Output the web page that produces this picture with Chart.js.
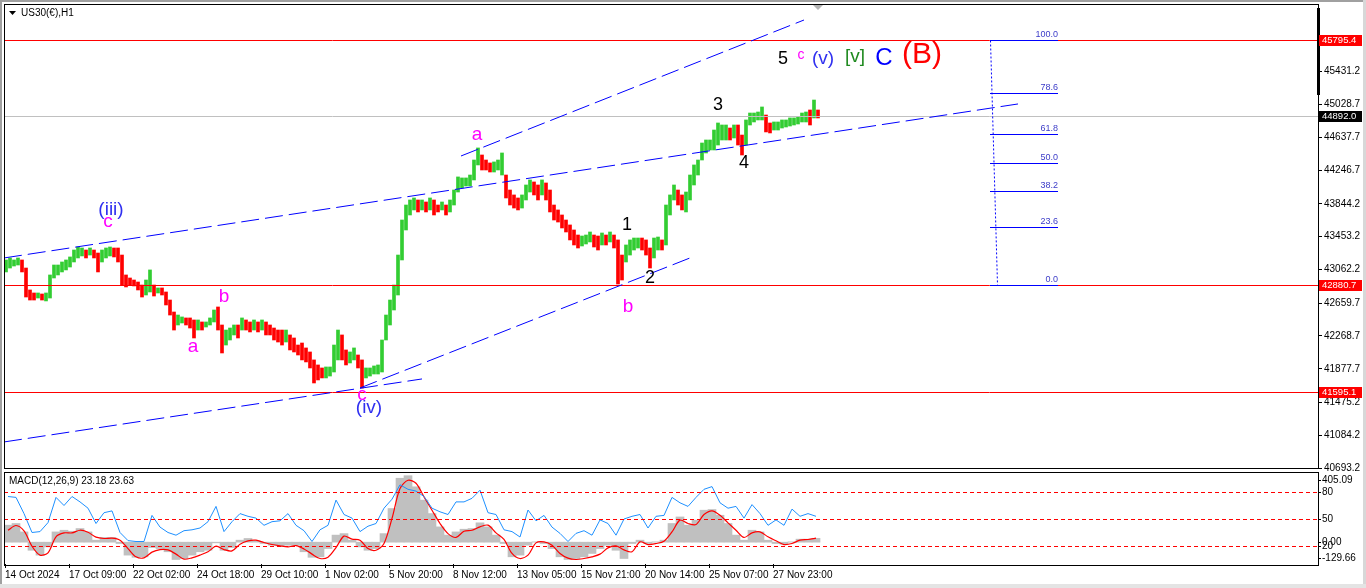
<!DOCTYPE html>
<html>
<head>
<meta charset="utf-8">
<script src="https://cdn.jsdelivr.net/npm/chart.js@4.4.1/dist/chart.umd.min.js"></script>
<style>
  html, body { margin: 0; padding: 0; background: #fff; }
  #wrap { position: relative; width: 1366px; height: 588px; overflow: hidden; background: #fff; }
  canvas { position: absolute; left: 0; }
  #price { top: 0; }
  #macd { top: 472px; }
  .edge { position: absolute; background: #a0a0a0; }
</style>
</head>
<body>
<div id="wrap">
  <canvas id="price" width="1366" height="476"></canvas>
  <canvas id="macd" width="1366" height="116"></canvas>
  <div class="edge" style="left:0;top:0;width:2px;height:588px"></div>
  <div class="edge" style="left:0;top:0;width:1366px;height:2px"></div>
  <div class="edge" style="left:1363px;top:0;width:3px;height:588px;background:#d8d8d8"></div>
  <div class="edge" style="left:0;top:584px;width:1366px;height:4px;background:#e4e4e4"></div>
</div>
<script>
// ---- data (hours are counted from the first bar, 1 hour = 1 bar) ----
const timeLabels = ['14 Oct 2024', '17 Oct 09:00', '22 Oct 02:00', '24 Oct 18:00', '29 Oct 10:00', '1 Nov 02:00',
  '5 Nov 20:00', '8 Nov 12:00', '13 Nov 05:00', '15 Nov 21:00', '20 Nov 14:00', '25 Nov 07:00', '27 Nov 23:00'];
const timeTickHours = [1, 65, 129, 193, 257, 321, 385, 449, 513, 577, 641, 705, 769];
const priceTicks = [40693.2, 41084.2, 41475.2, 41877.7, 42268.7, 42659.7, 43062.2, 43453.2, 43844.2,
  44246.7, 44637.7, 45028.7, 45431.2];

// 4-hour blocks of US30 H1: high / low of each block
const barHigh = [43176,43200,43176,43200,43176,43080,42818,42782,42782,42770,
  42782,42997,43116,43116,43152,43176,43212,43295,43331,43319,
  43295,43319,43295,43259,43295,43319,43331,43319,43319,43235,
  42997,42961,42937,42913,42877,42937,43057,42877,42842,42842,
  42794,42698,42555,42519,42496,42484,42484,42460,42460,42436,
  42436,42484,42579,42615,42400,42340,42364,42400,42400,42484,
  42460,42436,42460,42436,42460,42436,42400,42364,42340,42340,
  42340,42281,42245,42161,42185,42126,42078,41983,41923,41887,
  41899,41899,42161,42340,42281,42102,42078,42126,42042,41983,
  41887,41887,41911,41923,42221,42519,42698,42877,43235,43653,
  43832,43892,43916,43892,43892,43868,43916,43892,43832,43868,
  43832,43892,44011,44167,44155,44155,44190,44369,44513,44429,
  44369,44334,44346,44369,44453,44190,44011,43952,43916,43952,
  44071,44131,44107,44071,44131,44095,44011,43832,43773,43713,
  43653,43594,43534,43474,43462,43474,43510,43474,43462,43498,
  43474,43510,43474,43415,43235,43355,43415,43438,43438,43438,
  43415,43319,43438,43450,43415,43832,43952,44071,44011,43952,
  43987,44190,44310,44369,44572,44608,44608,44727,44811,44787,
  44787,44751,44787,44787,44667,44847,44930,44930,44942,45002,
  44906,44811,44823,44823,44847,44847,44871,44871,44883,44930,
  44942,44966,45085,44966];
const barLow = [43033,43080,43104,43116,43033,42734,42698,42698,42722,42698,
  42687,42722,42961,42997,43033,43057,43092,43152,43200,43224,
  43200,43235,43200,43033,43152,43200,43224,43212,43152,42877,
  42854,42877,42866,42818,42734,42758,42794,42746,42782,42758,
  42639,42519,42340,42400,42424,42400,42364,42245,42340,42340,
  42376,42400,42436,42340,42066,42161,42221,42281,42245,42340,
  42340,42317,42340,42317,42340,42281,42281,42221,42197,42161,
  42197,42102,42078,42042,41983,41959,41887,41708,41744,41768,
  41768,41791,41839,41983,41983,41923,41947,41983,41887,41648,
  41768,41791,41815,41815,41839,42221,42400,42579,42758,43176,
  43534,43713,43773,43749,43773,43749,43773,43713,43749,43773,
  43713,43749,43832,43987,44035,44059,44059,44131,44310,44250,
  44250,44226,44226,44250,44190,43916,43832,43796,43773,43796,
  43892,43987,43952,43892,43952,43892,43749,43653,43629,43558,
  43510,43415,43355,43319,43343,43367,43391,43331,43295,43355,
  43355,43391,43319,42889,42937,43152,43235,43295,43319,43295,
  43235,43080,43200,43295,43295,43355,43713,43892,43832,43773,
  43749,43892,44071,44190,44369,44453,44489,44489,44548,44608,
  44608,44608,44632,44548,44429,44548,44787,44823,44847,44847,
  44704,44692,44727,44727,44751,44763,44775,44787,44799,44823,
  44823,44787,44871,44871];

// MACD(12,26,9) panel, one value per 8 hours
const macdHist = [101,111,61,-48,-77,-28,61,71,65,81,
  61,12,28,28,-8,-77,-90,-87,-32,-38,
  -57,-103,-97,-77,-57,-48,-4,-48,-32,12,
  22,8,-8,-18,-22,-18,-18,-57,-90,-87,
  -38,42,51,12,-28,-48,-38,51,200,380,
  395,329,250,170,91,42,61,77,81,115,
  91,42,-8,-87,-77,-18,2,-8,-38,-87,
  -103,-97,-87,-67,-38,-18,-48,-97,-8,12,
  -8,2,12,111,150,101,131,190,194,160,
  111,42,12,71,61,12,-8,-12,2,18,
  18,23.18];
const macdSignal = [71,99,67,-24,-77,-63,32,55,55,71,
  59,30,22,24,12,-38,-87,-93,-59,-44,
  -46,-71,-101,-93,-77,-57,-24,-44,-52,-12,
  8,12,-2,-14,-22,-28,-20,-40,-71,-97,
  -89,-32,36,18,12,-38,-48,-8,141,319,
  368,350,269,190,111,51,28,65,71,91,
  101,55,16,-67,-97,-77,-4,2,-18,-67,
  -95,-103,-97,-87,-71,-34,-22,-46,-57,2,
  -14,-8,6,61,131,111,105,164,186,160,
  115,71,28,55,61,32,8,-14,-8,12,
  16,23.63];
const oscLine = [75,74,56,35,36,46,74,65,75,69,
  62,45,57,59,35,26,25,25,54,41,
  35,32,37,38,40,47,64,36,47,56,
  53,51,43,47,48,56,43,37,25,38,
  43,71,55,51,36,42,45,62,72,88,
  83,81,75,62,58,55,69,69,73,82,
  57,55,38,36,30,60,48,54,41,34,
  25,34,37,32,49,45,32,50,53,55,
  40,53,54,74,68,64,74,83,86,68,
  62,64,51,66,56,43,49,43,61,53,
  56,53];
const oscLevels = [80, 50, 20];
const macdMin = -129.66, macdMax = 405.09;

// objects on the price chart
const redLevels = [45795.4, 42880.7, 41595.1];
const lastPrice = 44892.0;
const fibLow = 42880.7, fibHigh = 45795.4;
const fibRatios = [0.0, 23.6, 38.2, 50.0, 61.8, 78.6, 100.0];
const fibSpanHours = [986, 1054];
const fibLowHour = 993, fibHighHour = 986;
const trendFromHour = [0, 457, 0, 356];
const trendFromPrice = [43200, 44417, 41004, 41648];
const trendToHour = [1014, 800, 418, 686];
const trendToPrice = [45038, 46040, 41756, 43200];

const labelText = ['(iii)', 'c', 'b', 'a', 'c', '(iv)', 'a', '1', '2', 'b', '3', '4', '5', 'c', '(v)', '[v]', 'C', '(B)'];
const labelHour = [107, 104, 220, 189, 358, 365, 473, 623, 646, 624, 714, 740, 779, 797, 819, 851, 880, 918];
const labelPrice = [43773, 43629, 42734, 42137, 41565, 41410, 44668, 43594, 42961, 42615, 45026, 44334,
  45575, 45623, 45575, 45599, 45587, 45623];
const labelKind = ['minute', 'sub', 'sub', 'sub', 'sub', 'minute', 'sub', 'count', 'count', 'sub', 'count', 'count',
  'count', 'subTop', 'minute', 'minor', 'intermediate', 'primary'];

// ---- drawing ----
const FONT = '"Liberation Sans", Arial, sans-serif';
const AXIS_PX = 10;
const labelStyles = {
  minute: { color: '#3030f0', size: 19 },
  sub: { color: '#ff00ff', size: 19 },
  subTop: { color: '#ff00ff', size: 14 },
  count: { color: '#000000', size: 18 },
  minor: { color: '#1f8a1f', size: 19 },
  intermediate: { color: '#0000ff', size: 24 },
  primary: { color: '#ff0000', size: 30 }
};

function seg(ctx, x1, y1, x2, y2) {
  ctx.beginPath();
  ctx.moveTo(x1, y1);
  ctx.lineTo(x2, y2);
  ctx.stroke();
}
const crisp = v => Math.round(v) + 0.5;
const noAxisPadding = ax => {
  ax.paddingTop = 0; ax.paddingBottom = 0; ax.paddingLeft = 0; ax.paddingRight = 0;
};

const priceBars = barHigh.map((h, i) => ({ x: i * 4 + 2, y: [barLow[i], h] }));
const priceColors = barHigh.map((h, i) => {
  const mid = (h + barLow[i]) / 2;
  const prev = i ? (barHigh[i - 1] + barLow[i - 1]) / 2 : mid;
  return mid >= prev ? '#32cd32' : '#ff0000';
});

const priceOverlay = {
  id: 'priceOverlay',
  afterDatasetsDraw(chart) {
    const { ctx, chartArea: a, scales: { x, y } } = chart;
    const px = h => x.getPixelForValue(h);
    const py = p => y.getPixelForValue(p);
    ctx.save();
    ctx.beginPath();
    ctx.rect(a.left, a.top, a.right - a.left, a.bottom - a.top);
    ctx.clip();
    ctx.lineWidth = 1;

    ctx.strokeStyle = '#c0c0c0';
    seg(ctx, a.left, crisp(py(lastPrice)), a.right, crisp(py(lastPrice)));
    ctx.strokeStyle = '#ff0000';
    redLevels.forEach(p => seg(ctx, a.left, crisp(py(p)), a.right, crisp(py(p))));

    // trend channels
    ctx.strokeStyle = '#0000ff';
    ctx.setLineDash([18, 6]);
    trendFromHour.forEach((h, i) => {
      seg(ctx, px(h), py(trendFromPrice[i]), px(trendToHour[i]), py(trendToPrice[i]));
    });

    // fibonacci
    ctx.setLineDash([]);
    ctx.font = '9px ' + FONT;
    ctx.textAlign = 'right';
    ctx.textBaseline = 'bottom';
    fibRatios.forEach(r => {
      const yy = crisp(py(fibLow + (fibHigh - fibLow) * r / 100));
      ctx.strokeStyle = '#0000ff';
      seg(ctx, px(fibSpanHours[0]), yy, px(fibSpanHours[1]), yy);
      ctx.fillStyle = '#3c3cc8';
      ctx.fillText(r.toFixed(1), px(fibSpanHours[1]), yy - 1);
    });
    ctx.setLineDash([2, 2]);
    seg(ctx, crisp(px(fibHighHour)), py(fibHigh), crisp(px(fibLowHour)), py(fibLow));
    ctx.setLineDash([]);

    // wave counts
    ctx.textAlign = 'center';
    ctx.textBaseline = 'middle';
    labelText.forEach((t, i) => {
      const st = labelStyles[labelKind[i]];
      ctx.font = st.size + 'px ' + FONT;
      ctx.fillStyle = st.color;
      ctx.fillText(t, px(labelHour[i]), py(labelPrice[i]));
    });
    ctx.restore();
  },
  afterDraw(chart) {
    const { ctx, chartArea: a, scales: { x, y } } = chart;
    const py = p => y.getPixelForValue(p);
    ctx.save();
    ctx.strokeStyle = '#000';
    ctx.lineWidth = 1;
    ctx.strokeRect(a.left + 0.5, a.top + 0.5, a.right - a.left, a.bottom - a.top);
    // chart shift marker and scale bar
    ctx.fillStyle = '#000';
    ctx.fillRect(a.right - 1, a.top + 4, 3, 87);
    const sx = Math.round(x.getPixelForValue(814));
    ctx.fillStyle = '#b4b4b4';
    ctx.beginPath();
    ctx.moveTo(sx - 5, a.top + 1);
    ctx.lineTo(sx + 5, a.top + 1);
    ctx.lineTo(sx, a.top + 6);
    ctx.closePath();
    ctx.fill();
    // price boxes on the axis
    ctx.font = '9.5px ' + FONT;
    ctx.textAlign = 'left';
    ctx.textBaseline = 'middle';
    const box = (p, bg) => {
      const yy = Math.round(py(p));
      ctx.fillStyle = bg;
      ctx.fillRect(a.right + 1, yy - 5, 43, 11);
      ctx.fillStyle = '#fff';
      ctx.fillText(p.toFixed(1), a.right + 4, yy + 0.5);
    };
    redLevels.forEach(p => box(p, '#ff0000'));
    box(lastPrice, '#000000');
    // title
    ctx.fillStyle = '#000';
    ctx.beginPath();
    ctx.moveTo(9, 11); ctx.lineTo(16, 11); ctx.lineTo(12.5, 15); ctx.closePath();
    ctx.fill();
    ctx.font = AXIS_PX + 'px ' + FONT;
    ctx.fillText('US30(€),H1', 21, 13);
    ctx.restore();
  }
};

new Chart(document.getElementById('price'), {
  type: 'bar',
  data: {
    datasets: [{ data: priceBars, backgroundColor: priceColors, barThickness: 3, borderWidth: 0 }]
  },
  options: {
    responsive: false,
    animation: false,
    events: [],
    layout: { padding: { left: 4, top: 4, right: 0, bottom: 8 } },
    plugins: { legend: { display: false }, tooltip: { enabled: false } },
    scales: {
      x: { type: 'linear', min: 0, max: 1314, offset: false, display: false, grid: { offset: false } },
      y: {
        position: 'right', min: 40693.2, max: 46231,
        afterBuildTicks: ax => { ax.ticks = priceTicks.map(v => ({ value: v })); },
        afterFit: ax => { ax.width = 48; noAxisPadding(ax); },
        ticks: { autoSkip: false, color: '#000', padding: 2, font: { family: 'Liberation Sans', size: AXIS_PX },
          callback: v => Number(v).toFixed(1) },
        grid: { drawOnChartArea: false, drawTicks: true, tickLength: 4, color: '#000' },
        border: { display: false }
      }
    }
  },
  plugins: [priceOverlay]
});

const macdOverlay = {
  id: 'macdOverlay',
  afterDatasetsDraw(chart) {
    const { ctx, chartArea: a, scales: { osc } } = chart;
    ctx.save();
    ctx.strokeStyle = '#ff0000';
    ctx.lineWidth = 1;
    ctx.setLineDash([4, 3]);
    oscLevels.forEach(l => seg(ctx, a.left, crisp(osc.getPixelForValue(l)), a.right, crisp(osc.getPixelForValue(l))));
    ctx.restore();
  },
  afterDraw(chart) {
    const { ctx, chartArea: a, scales: { y, osc } } = chart;
    ctx.save();
    ctx.strokeStyle = '#000';
    ctx.lineWidth = 1;
    ctx.strokeRect(a.left + 0.5, a.top - 1.5, a.right - a.left, a.bottom - a.top + 3);
    ctx.fillStyle = '#000';
    ctx.font = AXIS_PX + 'px ' + FONT;
    ctx.textAlign = 'left';
    ctx.textBaseline = 'middle';
    const lastMacd = macdHist[macdHist.length - 1], lastSignal = macdSignal[macdSignal.length - 1];
    ctx.fillText('MACD(12,26,9) ' + lastMacd.toFixed(2) + ' ' + lastSignal.toFixed(2), 9, a.top + 7);
    const clampY = v => Math.min(Math.max(v, a.top + 6), a.bottom - 6);
    const axisLabel = (txt, yy) => {
      ctx.fillText(txt, a.right + 4, clampY(yy));
      seg(ctx, a.right, crisp(clampY(yy)), a.right + 3, crisp(clampY(yy)));
    };
    axisLabel(macdMax.toFixed(2), y.getPixelForValue(macdMax));
    oscLevels.forEach(l => axisLabel(String(l), osc.getPixelForValue(l)));
    axisLabel('0.00', y.getPixelForValue(0));
    axisLabel(macdMin.toFixed(2), y.getPixelForValue(macdMin));
    ctx.restore();
  }
};

const at8 = (arr) => arr.map((v, k) => ({ x: k * 8 + 4, y: v }));

new Chart(document.getElementById('macd'), {
  type: 'bar',
  data: {
    datasets: [
      { type: 'line', data: at8(oscLine), yAxisID: 'osc', borderColor: '#1e90ff', borderWidth: 1, pointRadius: 0, tension: 0 },
      { type: 'line', data: at8(macdSignal), yAxisID: 'y', borderColor: '#ff0000', borderWidth: 1.2, pointRadius: 0, tension: 0.3 },
      { type: 'bar', data: at8(macdHist), yAxisID: 'y', backgroundColor: '#c0c0c0', barThickness: 8, borderWidth: 0 }
    ]
  },
  options: {
    responsive: false,
    animation: false,
    events: [],
    layout: { padding: { left: 4, top: 2, right: 48, bottom: 0 } },
    plugins: { legend: { display: false }, tooltip: { enabled: false } },
    scales: {
      x: {
        type: 'linear', min: 0, max: 1314, offset: false, position: 'bottom',
        afterBuildTicks: ax => { ax.ticks = timeTickHours.map(v => ({ value: v })); },
        afterFit: ax => { ax.height = 24; noAxisPadding(ax); },
        ticks: { autoSkip: false, maxRotation: 0, align: 'start', padding: 1, color: '#000',
          font: { family: 'Liberation Sans', size: AXIS_PX },
          callback: (v, i) => timeLabels[i] },
        grid: { drawOnChartArea: false, drawTicks: true, tickLength: 4, color: '#000', offset: false },
        border: { display: false }
      },
      y: { display: false, min: macdMin, max: macdMax },
      osc: { display: false, min: 0, max: 100 }
    }
  },
  plugins: [macdOverlay]
});
</script>
</body>
</html>
